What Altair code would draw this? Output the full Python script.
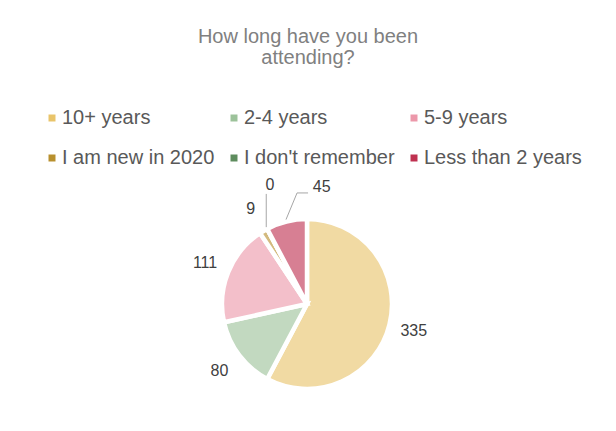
import altair as alt
import pandas as pd

# ---- data ----
categories = ["10+ years", "2-4 years", "5-9 years",
              "I am new in 2020", "I don't remember", "Less than 2 years"]
values = [335, 80, 111, 9, 0, 45]
colors = ["#e9c46a", "#9cc29a", "#ec98aa", "#b8902e", "#5e8c5e", "#bf3150"]
title_lines = ["How long have you been", "attending?"]

df = pd.DataFrame({"category": categories, "value": values})

# ---- layout constants ----
W, H = 600, 415
CX, CY = 299, 296          # pie centre (view coords)
R_OUT = 85
R_LAB = 110
FONT = "Liberation Sans"

nudge_x = ("datum.category == \"I don't remember\" ? 14.6 : "
           "datum.category == 'Less than 2 years' ? 41.3 : 0")
nudge_y = ("datum.category == \"I don't remember\" ? -21.9 : "
           "datum.category == 'Less than 2 years' ? -10 : 0")

base = alt.Chart(df).transform_joinaggregate(
    total="sum(value)"
).transform_window(
    cum="sum(value)", sort=[alt.SortField("category", order="ascending")],
    frame=[None, 0]
).transform_calculate(
    mid="2*PI*(datum.cum - datum.value/2)/datum.total"
).transform_calculate(
    lx=f"{CX} + {R_LAB}*sin(datum.mid) + ({nudge_x})",
    ly=f"{CY} - {R_LAB}*cos(datum.mid) + ({nudge_y})",
    sx=f"{CX} + 87*sin(datum.mid)",
    sy=f"{CY} - 87*cos(datum.mid)",
)

pie = alt.Chart(df).mark_arc(
    outerRadius=R_OUT, stroke="white", strokeWidth=4.5, fillOpacity=0.62
).encode(
    theta=alt.Theta("value:Q", stack=True),
    color=alt.Color(
        "category:N",
        scale=alt.Scale(domain=categories, range=colors),
        legend=alt.Legend(
            title=None, orient="none", legendX=34, legendY=100,
            columns=3, direction="horizontal",
            symbolType="square", symbolSize=49, symbolOpacity=1,
            symbolStrokeWidth=0, labelFontSize=20, labelFont=FONT,
            labelColor="#595959", labelOffset=0, columnPadding=9,
            rowPadding=20, padding=0, labelLimit=300,
        ),
    ),
    order=alt.Order("category:N", sort="ascending"),
    x=alt.value(CX),
    y=alt.value(CY),
)

labels = base.mark_text(
    font=FONT, fontSize=16, color="#404040", align="center", baseline="middle"
).encode(
    x=alt.X("lx:Q", scale=None, axis=None),
    y=alt.Y("ly:Q", scale=None, axis=None),
    text=alt.Text("value:Q"),
)

leader1 = base.transform_filter(
    alt.FieldOneOfPredicate(field="category",
                            oneOf=["I don't remember", "Less than 2 years"])
).transform_calculate(
    ex="datum.value == 0 ? datum.sx : datum.lx - 24.7",
    ey="datum.value == 0 ? datum.ly + 9 : datum.ly + 5.7",
).mark_rule(color="#a6a6a6", strokeWidth=1).encode(
    x=alt.X("sx:Q", scale=None, axis=None),
    y=alt.Y("sy:Q", scale=None, axis=None),
    x2="ex:Q",
    y2="ey:Q",
)

leader2 = base.transform_filter(
    alt.datum.category == "Less than 2 years"
).transform_calculate(
    ax="datum.lx - 24.7", bx="datum.lx - 13.7", ay="datum.ly + 5.7"
).mark_rule(color="#a6a6a6", strokeWidth=1).encode(
    x=alt.X("ax:Q", scale=None, axis=None),
    y=alt.Y("ay:Q", scale=None, axis=None),
    x2="bx:Q",
)

chart = alt.layer(pie, leader1, leader2, labels).properties(
    width=W, height=H, padding=0, autosize="none",
    title=alt.TitleParams(
        text=title_lines, anchor="middle", frame="group",
        font=FONT, fontSize=20, fontWeight="normal", color="#808080",
        lineHeight=21, orient="top", offset=0, dy=60, baseline="top",
    ),
).configure_view(stroke=None)

chart.save("out.html", embed_options={"renderer": "svg", "actions": False})
